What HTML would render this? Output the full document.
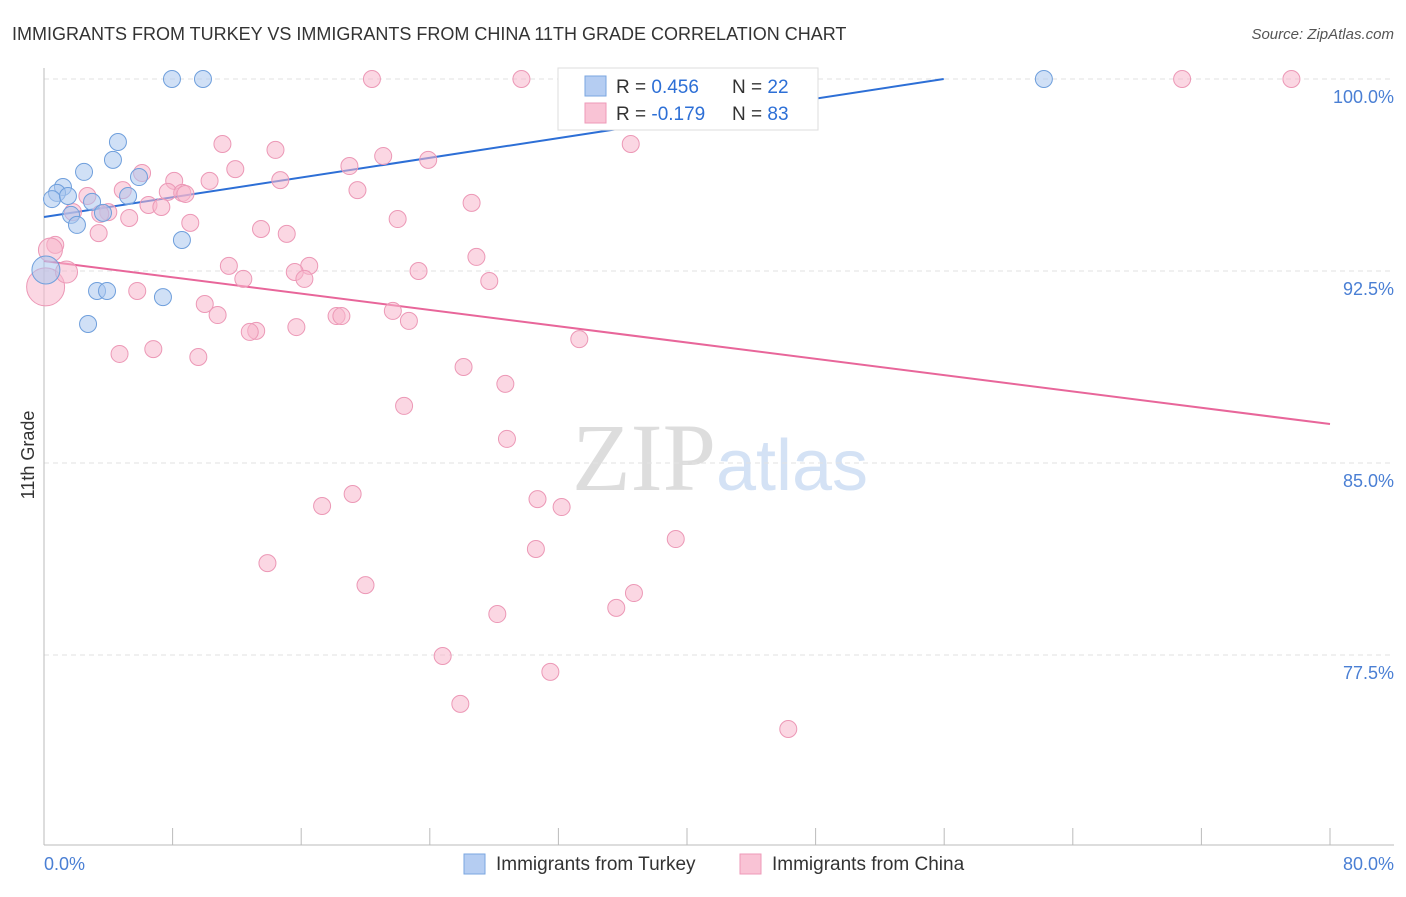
<!DOCTYPE html>
<html><head><meta charset="utf-8"><style>
body{margin:0;background:#fff;font-family:"Liberation Sans",sans-serif;}
svg text{font-family:"Liberation Sans",sans-serif;}
</style></head><body>
<svg id="chart" width="1406" height="892" xmlns="http://www.w3.org/2000/svg">
<text x="12" y="40" font-size="18" fill="#333">IMMIGRANTS FROM TURKEY VS IMMIGRANTS FROM CHINA 11TH GRADE CORRELATION CHART</text>
<text x="1394" y="39" font-size="15" fill="#555" font-style="italic" text-anchor="end">Source: ZipAtlas.com</text>
<text x="720" y="490" font-size="96" text-anchor="middle"><tspan fill="#ddd" font-family="Liberation Serif">ZIP</tspan><tspan fill="#d4e2f5" font-size="72">atlas</tspan></text>
<g id="grid"></g>
<g id="axes"></g>
<g id="lines"></g>
<g id="points"></g>
<text transform="translate(34,455) rotate(-90)" font-size="18" fill="#333" text-anchor="middle">11th Grade</text>
<g>
<rect x="558" y="68" width="260" height="62" fill="#fff" stroke="#ddd"/>
<rect x="585" y="76" width="21" height="20" fill="#b5cdf2" stroke="#7aa6e0"/>
<rect x="585" y="103" width="21" height="20" fill="#f9c3d5" stroke="#ee9ab8"/>
<text x="616" y="93" font-size="19" fill="#333">R = <tspan fill="#2d6fd6">0.456</tspan></text>
<text x="732" y="93" font-size="19" fill="#333">N = <tspan fill="#2d6fd6">22</tspan></text>
<text x="616" y="120" font-size="19" fill="#333">R = <tspan fill="#2d6fd6">-0.179</tspan></text>
<text x="732" y="120" font-size="19" fill="#333">N = <tspan fill="#2d6fd6">83</tspan></text>
</g>
<g>
<rect x="464" y="854" width="21" height="20" fill="#b5cdf2" stroke="#7aa6e0"/>
<text x="496" y="870" font-size="19" fill="#333">Immigrants from Turkey</text>
<rect x="740" y="854" width="21" height="20" fill="#f9c3d5" stroke="#ee9ab8"/>
<text x="772" y="870" font-size="19" fill="#333">Immigrants from China</text>
</g>
</svg>
<script>
const yTicks=[100,92.5,85,77.5];
const yTickLabels=["100.0%","92.5%","85.0%","77.5%"];
const xTicks=[0,8,16,24,32,40,48,56,64,72,80];
const xEndLabels=["0.0%","80.0%"];
const turkeyX=[7.96,9.89,62.2,4.60,4.29,2.49,5.91,1.18,0.81,0.50,1.49,5.23,2.99,1.68,3.67,2.05,8.58,3.30,3.92,7.40,2.74,0.12];
const turkeyY=[100,100,100,97.54,96.84,96.37,96.17,95.78,95.55,95.31,95.43,95.43,95.20,94.69,94.77,94.30,93.71,91.72,91.72,91.48,90.43,92.54];
const chinaX=[20.4,29.7,33.0,40.8,70.8,77.6,11.1,36.5,14.4,21.1,23.9,19.0,11.9,6.1,14.7,8.1,10.3,4.9,19.5,7.7,8.6,8.8,2.7,6.5,7.3,26.6,4.0,3.5,1.8,5.3,22.0,9.1,3.4,13.5,15.1,0.7,26.9,11.5,16.5,15.6,23.3,12.4,16.2,27.7,5.8,10.0,21.7,10.8,18.2,18.5,22.7,15.7,13.2,12.8,33.3,6.8,4.7,9.6,26.1,28.7,22.4,28.8,19.2,17.3,30.7,32.2,39.3,30.6,13.9,20.0,36.7,35.6,28.2,24.8,31.5,25.9,46.3,0.1,1.4,0.4];
const chinaY=[100,100,100,100,100,100,97.46,97.46,97.23,96.99,96.84,96.60,96.48,96.33,96.05,96.02,96.02,95.66,95.66,95.59,95.55,95.51,95.43,95.08,95.0,95.16,94.80,94.73,94.80,94.57,94.53,94.38,93.98,94.14,93.95,93.52,93.05,92.70,92.70,92.46,92.50,92.19,92.19,92.11,91.72,91.21,90.94,90.78,90.74,90.74,90.55,90.31,90.16,90.12,89.84,89.45,89.26,89.14,88.75,88.09,87.23,85.94,83.79,83.32,83.59,83.28,82.03,81.64,81.09,80.23,79.92,79.34,79.10,77.46,76.84,75.59,74.61,91.88,92.46,93.32];
const turkeyTrend=[94.61,0.0963];
const chinaTrend=[92.89,-0.0796];
const NS="http://www.w3.org/2000/svg";
const X=v=>44+v*16.075, Y=v=>79+(100-v)*25.6;
function mk(tag,attrs,parent){const e=document.createElementNS(NS,tag);for(const k in attrs)e.setAttribute(k,attrs[k]);parent.appendChild(e);return e;}
const grid=document.getElementById('grid'),axes=document.getElementById('axes'),lines=document.getElementById('lines'),pts=document.getElementById('points');
yTicks.forEach((t,i)=>{
 const l=mk('line',{x1:44,x2:1394,y1:Y(t),y2:Y(t),stroke:'#e2e2e2','stroke-dasharray':'5,4'},grid);
 
 
 const tx=mk('text',{x:1394,y:Y(t)+24,'font-size':18,fill:'#4a7fd4','text-anchor':'end'},axes);
 tx.textContent=yTickLabels[i];
 
 
});
const ya=mk('line',{x1:44,x2:44,y1:68,y2:845,stroke:'#bbb'},axes);


const xa=mk('line',{x1:44,x2:1394,y1:845,y2:845,stroke:'#bbb'},axes);


xTicks.forEach(t=>{
 const l=mk('line',{x1:X(t),x2:X(t),y1:828,y2:845,stroke:'#bbb'},axes);
 
 
});
[[0,'start',44],[80,'end',1394]].forEach((d,i)=>{
 const t=mk('text',{x:d[2],y:870,'font-size':18,fill:'#4a7fd4','text-anchor':d[1]},axes);
 t.textContent=xEndLabels[i];
 
 
});
function drawPts(xs,ys,fill,stroke,name,big){
 xs.forEach((x,i)=>{
  let r=8.5; if(big[i])r=big[i];
  const c=mk('circle',{cx:X(x),cy:Y(ys[i]),r:r,fill:fill,'fill-opacity':0.55,stroke:stroke,'stroke-width':1},pts);
  
  
 });
}
const chinaBig={77:19,78:11,79:12};
const turkeyBig={21:14};
drawPts(chinaX,chinaY,'#f7b6cc','#ec98b6','china-point',chinaBig);
drawPts(turkeyX,turkeyY,'#a9c6ef','#6f9fdc','turkey-point',turkeyBig);
const xEndT=(100-turkeyTrend[0])/turkeyTrend[1];
const tl=mk('line',{x1:X(0),y1:Y(turkeyTrend[0]),x2:X(xEndT),y2:Y(100),stroke:'#2d6fd6','stroke-width':2},lines);


const cl=mk('line',{x1:X(0),y1:Y(chinaTrend[0]),x2:X(80),y2:Y(chinaTrend[0]+80*chinaTrend[1]),stroke:'#e8669a','stroke-width':2},lines);


</script>
</body></html>
